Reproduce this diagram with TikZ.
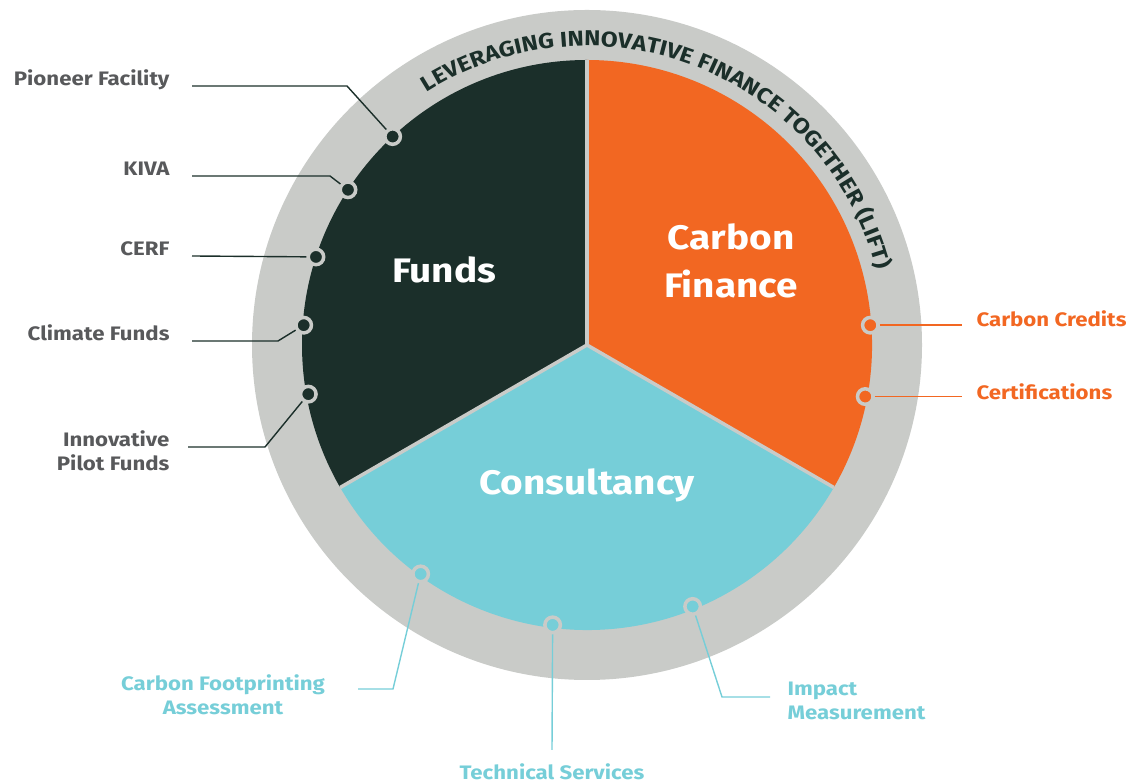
\documentclass[tikz,border=0pt]{standalone}
\usepackage{fontspec}
\setmainfont{Fira Sans}[FakeStretch=1.14]
\usetikzlibrary{positioning, calc, decorations.text}
\definecolor{fundgreen}{HTML}{1B2F2A}
\definecolor{carbonorange}{HTML}{F26722}
\definecolor{consultblue}{HTML}{76CED8}
\definecolor{ringgray}{HTML}{C9CBC8}
\definecolor{labelgray}{HTML}{58595B}

\begin{document}
\begin{tikzpicture}[x=1pt, y=1pt,
    dot/.style = {circle, draw=ringgray, line width=3.5pt, minimum size=15.5pt, inner sep=0pt},
    lead/.style = {line width=1.4pt},
    sector/.style = {text=white, font=\fontsize{34}{48}\selectfont\bfseries, align=center},
    item/.style = {font=\fontsize{19.5}{24.5}\selectfont\bfseries}]
    \useasboundingbox (0,0) rectangle (1137,783);
    \coordinate (c) at (587,438);

    % ring and the three parts
    \fill[ringgray] (c) circle (335);
    \fill[fundgreen] (c) -- ++(90:285) arc[start angle=90, end angle=210, radius=285] -- cycle;
    \fill[consultblue] (c) -- ++(210:285) arc[start angle=210, end angle=330, radius=285] -- cycle;
    \fill[carbonorange] (c) -- ++(330:285) arc[start angle=330, end angle=450, radius=285] -- cycle;
    \foreach \a in {90, 210, 330}
        \draw[ringgray, line width=3.5pt] (c) -- ++(\a:285);

    \path[decorate, decoration={text along path, text align=center, text color=fundgreen,
        text={|\fontsize{21.5}{22}\selectfont\bfseries|LEVERAGING INNOVATIVE FINANCE TOGETHER (LIFT)}}]
        ($(c)+(131:299)$) arc[start angle=131, end angle=6, radius=299];

    \node[sector] (funds) at (444,513) {Funds};
    \node[sector] (carbon) at (731,522) {Carbon\\Finance};
    \node[sector] (consult) at (587,298) {Consultancy};

    % funds
    \node[item, text=labelgray, anchor=base east] (pfl) at (173,697) {Pioneer Facility};
    \node[item, text=labelgray, anchor=base east] (kival) at (173,607) {KIVA};
    \node[item, text=labelgray, anchor=base east] (cerfl) at (173,527) {CERF};
    \node[item, text=labelgray, anchor=base east] (cfl) at (173,442) {Climate Funds};
    \node[item, text=labelgray, anchor=base east, align=right] (ipl) at (173,312) {Innovative\\Pilot Funds};

    \node[dot, fill=fundgreen] (pf) at ($(c)+(133:285)$) {};
    \node[dot, fill=fundgreen] (kiva) at ($(c)+(147:285)$) {};
    \node[dot, fill=fundgreen] (cerf) at ($(c)+(162:285)$) {};
    \node[dot, fill=fundgreen] (cf) at ($(c)+(176:284)$) {};
    \node[dot, fill=fundgreen] (ip) at ($(c)+(190:283)$) {};

    \coordinate (pfk) at (347,697);
    \coordinate (kivak) at (330,607);
    \coordinate (cfk) at (278,442);
    \coordinate (ipk) at (265,336);

    \draw[lead, fundgreen] ([xshift=19pt]pfl.base east) -- (pfk) -- (pf);
    \draw[lead, fundgreen] ([xshift=19pt]kival.base east) -- (kivak) -- (kiva);
    \draw[lead, fundgreen] ([xshift=19pt]cerfl.base east) -- (cerf);
    \draw[lead, fundgreen] ([xshift=19pt]cfl.base east) -- (cfk) -- (cf);
    \draw[lead, fundgreen] (188,336) -- (ipk) -- (ip);

    % carbon finance
    \node[item, text=carbonorange, anchor=base west] (ccl) at (973,456) {Carbon Credits};
    \node[item, text=carbonorange, anchor=base west] (certl) at (973,383) {Certifications};
    \node[dot, fill=carbonorange] (cc) at ($(c)+(4:284)$) {};
    \node[dot, fill=carbonorange] (cert) at ($(c)+(-10.5:283)$) {};
    \draw[lead, carbonorange] (cc) -- ([xshift=-11pt]ccl.base west |- cc);
    \draw[lead, carbonorange] (cert) -- ([xshift=-11pt]certl.base west |- cert);

    % consultancy
    \node[item, text=consultblue, anchor=base, align=center] (cfal) at (223,68) {Carbon Footprinting\\Assessment};
    \node[item, text=consultblue, anchor=base] (tsl) at (552,3) {Technical Services};
    \node[item, text=consultblue, anchor=base west, align=left] (iml) at (784,63) {Impact\\Measurement};

    \node[dot, fill=consultblue] (cfa) at ($(c)+(234:283)$) {};
    \node[dot, fill=consultblue] (ts) at ($(c)+(263:282)$) {};
    \node[dot, fill=consultblue] (im) at ($(c)+(292:282)$) {};

    \coordinate (cfak) at (393,94);
    \coordinate (tsk) at (552,33);
    \coordinate (imk) at (722,86);

    \draw[lead, consultblue] (358,94) -- (cfak) -- (cfa);
    \draw[lead, consultblue] (tsk) -- (ts);
    \draw[lead, consultblue] (770,86) -- (imk) -- (im);
\end{tikzpicture}
\end{document}
